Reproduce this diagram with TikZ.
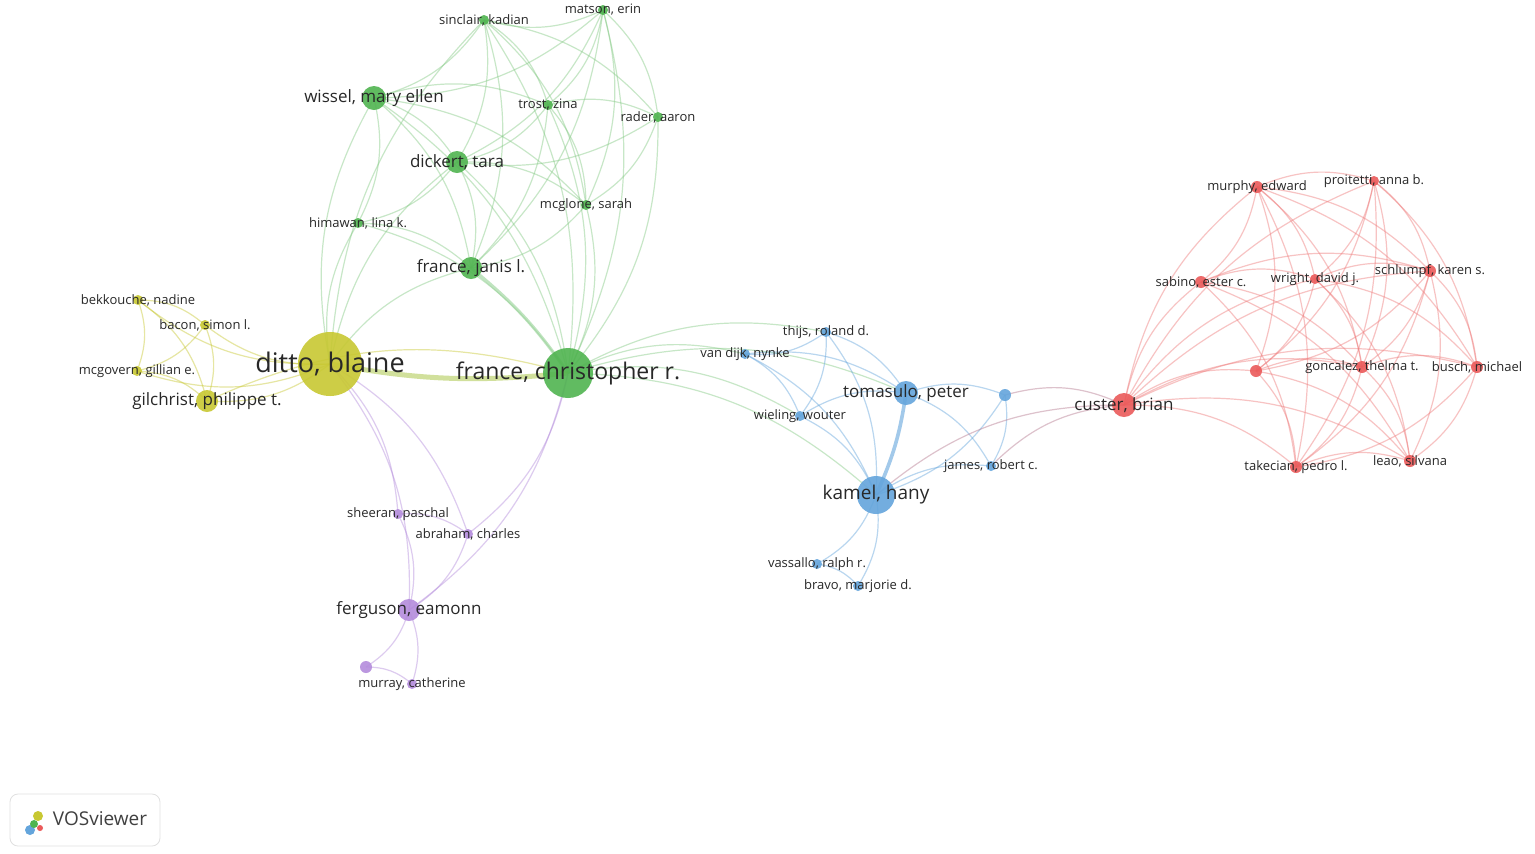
\documentclass[tikz,border=0pt]{standalone}
\usepackage{fontspec}
\setmainfont{Open Sans}
\begin{document}
\begin{tikzpicture}[x=0.5pt,y=-0.5pt]
\definecolor{cg}{RGB}{80,180,80}
\definecolor{cy}{RGB}{200,200,50}
\definecolor{cp}{RGB}{180,140,220}
\definecolor{cb}{RGB}{100,165,220}
\definecolor{cr}{RGB}{235,90,90}
\definecolor{tx}{RGB}{40,40,40}
\tikzset{vn/.style={circle,inner sep=0pt,opacity=0.9},
 lab/.style={text=tx,inner sep=0pt},
 ed/.style={line width=0.6pt,opacity=0.45,bend left=20}}
\useasboundingbox (0,0) rectangle (1535,853);
\fill[white] (0,0) rectangle (1535,853);
\foreach \n/\x/\y in {
matson/603/10, sinclair/484/20, wissel/374/98, trost/548/105,
rader/658/117, dickert/457/162, mcglone/586/205, himawan/358/223,
francej/471/268, francec/568/373,
bekkouche/138/300, bacon/205/325, mcgovern/137/371, gilchrist/207/401, ditto/330/364,
sheeran/398/514, abraham/468/534, ferguson/409/610, pone/366/667, murray/412/684,
thijs/826/332, vandijk/745/354, tomasulo/906/393, bone/1005/395, wieling/800/416,
james/991/466, kamel/876/495, vassallo/817/564, bravo/858/586,
murphy/1257/187, proitetti/1374/181, sabino/1201/282, wright/1315/279,
schlumpf/1430/271, rone/1256/371, goncalez/1362/367, busch/1477/367,
custer/1124/405, takecian/1296/467, leao/1410/461}
 \coordinate (\n) at (\x,\y);
\foreach \a/\b in {matson/sinclair,matson/trost,matson/rader,matson/dickert,matson/wissel,matson/mcglone,matson/francej,matson/francec,
sinclair/wissel,sinclair/trost,sinclair/rader,sinclair/dickert,sinclair/francej,sinclair/francec,sinclair/mcglone,
wissel/dickert,wissel/trost,wissel/francej,wissel/francec,wissel/himawan,wissel/mcglone,trost/rader,trost/dickert,trost/mcglone,
trost/francej,trost/francec,rader/mcglone,rader/dickert,rader/francec,dickert/francej,dickert/francec,dickert/himawan,
dickert/mcglone,mcglone/francej,mcglone/francec,himawan/francej,himawan/francec,
ditto/wissel,ditto/dickert,ditto/francej,ditto/himawan,ditto/sinclair,
francec/vandijk,francec/wieling,francec/kamel,francec/tomasulo,francec/thijs}
 \draw[ed,cg!70] (\a) to (\b);
\draw[cg!60,line width=1.6pt,opacity=0.6,bend left=8] (francej) to (francec);
\draw[cy!70!cg,line width=2.5pt,opacity=0.5,bend right=8] (ditto) to (francec);
\foreach \a/\b in {ditto/bekkouche,ditto/bacon,ditto/mcgovern,ditto/gilchrist,bekkouche/bacon,bekkouche/mcgovern,bekkouche/gilchrist,
bacon/gilchrist,mcgovern/gilchrist,bacon/mcgovern,gilchrist/francec}
 \draw[ed,cy] (\a) to (\b);
\foreach \a/\b in {ditto/sheeran,ditto/abraham,ditto/ferguson,francec/abraham,francec/ferguson,sheeran/abraham,sheeran/ferguson,
abraham/ferguson,ferguson/pone,ferguson/murray,pone/murray}
 \draw[ed,cp] (\a) to (\b);
\foreach \a/\b in {thijs/vandijk,thijs/tomasulo,thijs/kamel,thijs/wieling,vandijk/wieling,vandijk/tomasulo,vandijk/kamel,
wieling/tomasulo,wieling/kamel,tomasulo/bone,tomasulo/james,bone/james,bone/kamel,kamel/james,kamel/vassallo,kamel/bravo,vassallo/bravo}
 \draw[ed,cb] (\a) to (\b);
\draw[cb,line width=1.8pt,opacity=0.6,bend left=8] (tomasulo) to (kamel);
\foreach \a/\b in {kamel/custer,bone/custer,james/custer}
 \draw[ed,cr!60!cb] (\a) to (\b);
\foreach \a/\b in {custer/murphy,custer/proitetti,custer/sabino,custer/wright,custer/schlumpf,custer/rone,custer/goncalez,custer/busch,
custer/takecian,custer/leao,murphy/proitetti,murphy/sabino,murphy/wright,murphy/schlumpf,murphy/rone,murphy/goncalez,murphy/busch,
murphy/takecian,proitetti/wright,proitetti/schlumpf,proitetti/goncalez,proitetti/busch,proitetti/rone,proitetti/takecian,
sabino/wright,sabino/schlumpf,sabino/goncalez,sabino/takecian,sabino/leao,wright/schlumpf,wright/goncalez,wright/rone,
wright/busch,wright/leao,schlumpf/goncalez,schlumpf/busch,schlumpf/rone,schlumpf/takecian,schlumpf/leao,
rone/goncalez,rone/takecian,rone/leao,goncalez/busch,goncalez/takecian,goncalez/leao,busch/leao,busch/takecian,takecian/leao}
 \draw[ed,cr!80] (\a) to (\b);
\def\nodelist{
matson/603/10/10/cg/{matson, erin}/6.5, sinclair/484/20/10/cg/{sinclair, kadian}/6.5, wissel/374/98/24/cg/{wissel, mary ellen}/8.5,
trost/548/105/10/cg/{trost, zina}/6.5, rader/658/117/10/cg/{rader, aaron}/6.5, dickert/457/162/22/cg/{dickert, tara}/8.5,
mcglone/586/205/10/cg/{mcglone, sarah}/6.5, himawan/358/223/10/cg/{himawan, lina k.}/6.5, francej/471/268/22/cg/{france, janis l.}/8.5,
francec/568/373/50/cg/{france, christopher r.}/11.5,
bekkouche/138/300/10/cy/{bekkouche, nadine}/6.5, bacon/205/325/10/cy/{bacon, simon l.}/6.5, mcgovern/137/371/10/cy/{mcgovern, gillian e.}/6.5,
gilchrist/207/401/22/cy/{gilchrist, philippe t.}/8.5, ditto/330/364/64/cy/{ditto, blaine}/13.5,
sheeran/398/514/10/cp/{sheeran, paschal}/6.5, abraham/468/534/10/cp/{abraham, charles}/6.5, ferguson/409/610/22/cp/{ferguson, eamonn}/8.5,
pone/366/667/12/cp/{}/6.5, murray/412/684/10/cp/{murray, catherine}/6.5,
thijs/826/332/10/cb/{thijs, roland d.}/6.5, vandijk/745/354/10/cb/{van dijk, nynke}/6.5, tomasulo/906/393/24/cb/{tomasulo, peter}/8.5,
bone/1005/395/12/cb/{}/6.5, wieling/800/416/10/cb/{wieling, wouter}/6.5, james/991/466/10/cb/{james, robert c.}/6.5,
kamel/876/495/38/cb/{kamel, hany}/9.5, vassallo/817/564/10/cb/{vassallo, ralph r.}/6.5, bravo/858/586/10/cb/{bravo, marjorie d.}/6.5,
murphy/1257/187/12/cr/{murphy, edward}/6.5, proitetti/1374/181/10/cr/{proitetti, anna b.}/6.5, sabino/1201/282/12/cr/{sabino, ester c.}/6.5,
wright/1315/279/10/cr/{wright, david j.}/6.5, schlumpf/1430/271/12/cr/{schlumpf, karen s.}/6.5, rone/1256/371/12/cr/{}/6.5,
goncalez/1362/367/12/cr/{goncalez, thelma t.}/6.5, busch/1477/367/12/cr/{busch, michael}/6.5, custer/1124/405/24/cr/{custer, brian}/8.5,
takecian/1296/467/12/cr/{takecian, pedro l.}/6.5, leao/1410/461/12/cr/{leao, silvana}/6.5}
\foreach \n/\x/\y/\d/\c/\t/\s in \nodelist
 \node[vn,fill=\c,minimum size=\d*0.5pt] (\n-c) at (\x,\y) {};
\foreach \n/\x/\y/\d/\c/\t/\s in \nodelist
 \node[lab,font=\fontsize{\s pt}{\s pt}\selectfont] (\n-l) at (\x,\y) {\t};
\node[draw=black!12,rounded corners=4pt,minimum width=75pt,minimum height=26pt,fill=white] (logo) at (85,820) {};
\node[lab,font=\fontsize{9.5pt}{10pt}\selectfont,text=black!75] (vos) at (100,819) {VOSviewer};
\fill[cb] (30,830) circle (5);
\fill[cy] (38,816) circle (5);
\fill[cg] (34,824) circle (4);
\fill[cr] (40,828) circle (3);
\end{tikzpicture}
\end{document}
